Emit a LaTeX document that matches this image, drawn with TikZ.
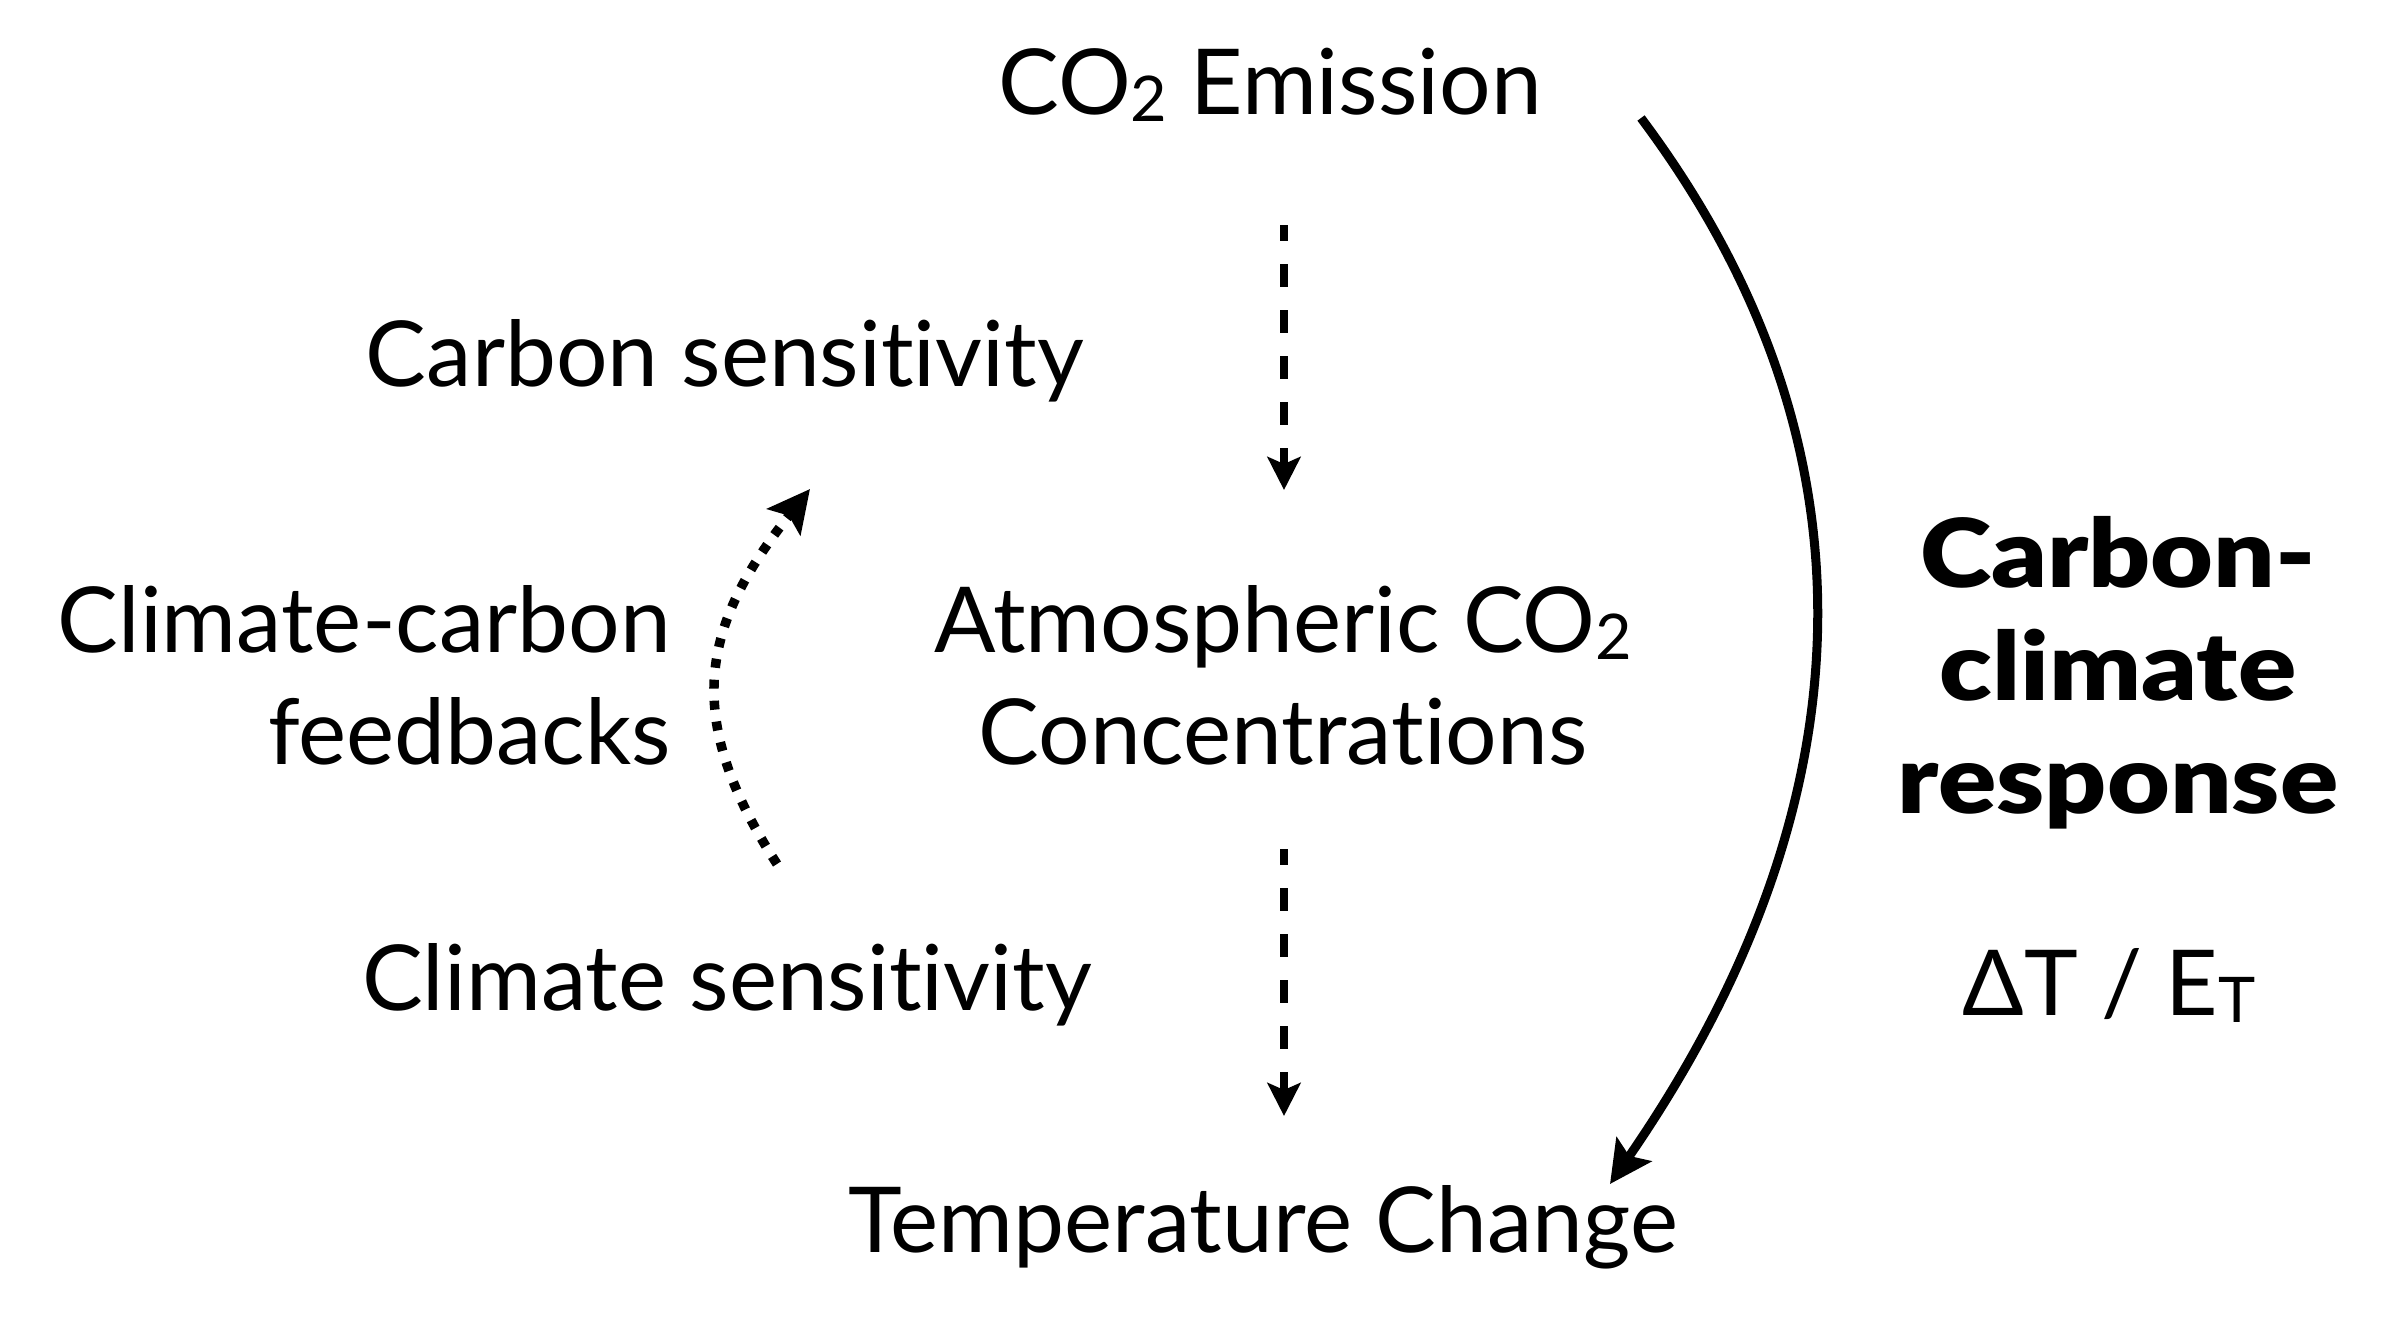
\documentclass[tikz,border=0pt]{standalone}
\usepackage{fontspec}
\setmainfont{Lato}[BoldFont={Lato Black},Ligatures=NoCommon]
\usetikzlibrary{arrows.meta}
\newcommand{\sbs}[1]{\raisebox{-7pt}{\fontsize{63}{63}\selectfont #1}}
\begin{document}
\begin{tikzpicture}[x=1pt,y=-1pt,
  lbl/.style={inner sep=0pt, font=\fontsize{91}{112}\selectfont},
  big/.style={inner sep=0pt, font=\fontsize{95}{113}\selectfont\bfseries},
  dasharr/.style={line width=8pt, dash pattern=on 23pt off 23pt, dash phase=7pt,
    -{Stealth[length=33pt,width=33pt,inset=7pt]}},
  dotarr/.style={line width=9.5pt, dash pattern=on 9pt off 12pt,
    -{Stealth[length=42pt,width=42pt,inset=8pt]}},
  solarr/.style={line width=9pt,
    -{Stealth[length=42pt,width=42pt,inset=8pt]}}]
\path[use as bounding box] (0,0) rectangle (2382,1322);
\node[lbl, anchor=base] (emis) at (1270,114) {CO\sbs{2} Emission};
\node[lbl, anchor=base] (csens) at (725,386) {Carbon sensitivity};
\node[lbl, anchor=base, align=center] (atm) at (1283,764) {Atmospheric CO\sbs{2}\\Concentrations};
\node[lbl, anchor=base east, align=right] (fb) at (671,764) {Climate-carbon\\feedbacks};
\node[lbl, anchor=base] (clsens) at (727,1010) {Climate sensitivity};
\node[lbl, anchor=base] (temp) at (1263,1252) {Temperature Change};
\node[big, anchor=base] (ccr) at (2118,813) {\scalebox{1.14}[1]{\begin{tabular}[b]{@{}c@{}}Carbon-\\climate\\response\end{tabular}}};
\node[lbl, anchor=base] (ratio) at (2109,1015) {ΔT / E\sbs{T}};
\coordinate (d1a) at (1284,225);
\coordinate (d1b) at (1284,490);
\coordinate (d2a) at (1284,849);
\coordinate (d2b) at (1284,1116);
\coordinate (fbA) at (777,864);
\coordinate (fbB) at (810,489);
\coordinate (ccA) at (1641,118);
\coordinate (ccB) at (1610,1184);
\draw[dasharr] (d1a) -- (d1b);
\draw[dasharr] (d2a) -- (d2b);
\draw[dotarr] (fbA) .. controls (681,716) and (702,625) .. (fbB);
\draw[solarr] (ccA) .. controls (1900,464) and (1856,828) .. (ccB);
\end{tikzpicture}
\end{document}
